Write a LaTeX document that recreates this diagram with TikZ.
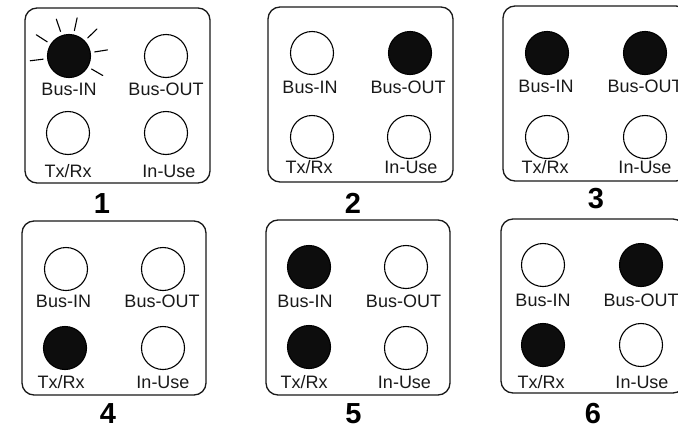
\documentclass[tikz,border=0pt]{standalone}
\usepackage{fontspec}
\setmainfont{Liberation Sans}
\usetikzlibrary{calc}
\begin{document}
\begin{tikzpicture}[x=1pt,y=-1pt,
  panel/.style={draw=black!90,line width=1.3pt,rounded corners=12pt},
  ledoff/.style={circle,draw=black,line width=1.1pt,fill=white,minimum size=43pt,inner sep=0pt},
  ledon/.style={ledoff,fill=black!95},
  lbl/.style={anchor=base,inner sep=0pt,text=black!90,font=\fontsize{18}{20}\selectfont},
  num/.style={anchor=base,inner sep=0pt,text=black,font=\bfseries\fontsize{29}{32}\selectfont},
  ray/.style={line width=1.1pt,line cap=round}]
\useasboundingbox (0,0) rectangle (678,426);
\clip (0,0) rectangle (678,426);

% panel 1 : Bus-IN blinking
\draw[panel] (25,8) rectangle (210,183);
\node[ledon]  (p1bi) at (69,56) {};
\node[ledoff] (p1bo) at (166,56) {};
\node[ledoff] (p1tr) at (68,133) {};
\node[ledoff] (p1iu) at (166,133) {};
\node[lbl] (p1bil) at (69,95) {Bus-IN};
\node[lbl] (p1bol) at (166,95) {Bus-OUT};
\node[lbl] (p1trl) at (68,177) {Tx/Rx};
\node[lbl] (p1iul) at (169,177) {In-Use};
\node[num] (n1) at (102,213) {1};
\foreach \a in {187,147,109,78,44,9,-30}
  \draw[ray] ($(p1bi)+(\a:26pt)$) -- ($(p1bi)+(\a:39pt)$);

% panel 2 : Bus-OUT
\draw[panel] (268,7) rectangle (453,182);
\node[ledoff] (p2bi) at (312,53) {};
\node[ledon]  (p2bo) at (410,53) {};
\node[ledoff] (p2tr) at (312,137) {};
\node[ledoff] (p2iu) at (409,137) {};
\node[lbl] (p2bil) at (310,93) {Bus-IN};
\node[lbl] (p2bol) at (408,93) {Bus-OUT};
\node[lbl] (p2trl) at (309,173) {Tx/Rx};
\node[lbl] (p2iul) at (411,173) {In-Use};
\node[num] (n2) at (353,213) {2};

% panel 3 : Bus-IN and Bus-OUT
\draw[panel] (503,6) rectangle (688,181);
\node[ledon]  (p3bi) at (547,53) {};
\node[ledon]  (p3bo) at (645,53) {};
\node[ledoff] (p3tr) at (547,137) {};
\node[ledoff] (p3iu) at (645,137) {};
\node[lbl] (p3bil) at (546,92) {Bus-IN};
\node[lbl] (p3bol) at (645,92) {Bus-OUT};
\node[lbl] (p3trl) at (545,173) {Tx/Rx};
\node[lbl] (p3iul) at (645,173) {In-Use};
\node[num] (n3) at (596,208) {3};

% panel 4 : Tx/Rx
\draw[panel] (22,221) rectangle (206,395);
\node[ledoff] (p4bi) at (66,269) {};
\node[ledoff] (p4bo) at (163,269) {};
\node[ledon]  (p4tr) at (65,348) {};
\node[ledoff] (p4iu) at (163,348) {};
\node[lbl] (p4bil) at (63.5,307) {Bus-IN};
\node[lbl] (p4bol) at (162,307) {Bus-OUT};
\node[lbl] (p4trl) at (61,388) {Tx/Rx};
\node[lbl] (p4iul) at (163,388) {In-Use};
\node[num] (n4) at (108,423) {4};

% panel 5 : Bus-IN and Tx/Rx
\draw[panel] (266,220) rectangle (450,395);
\node[ledon]  (p5bi) at (309,267) {};
\node[ledoff] (p5bo) at (406,267) {};
\node[ledon]  (p5tr) at (309,347) {};
\node[ledoff] (p5iu) at (406,348) {};
\node[lbl] (p5bil) at (305,307) {Bus-IN};
\node[lbl] (p5bol) at (403.5,307) {Bus-OUT};
\node[lbl] (p5trl) at (304,388) {Tx/Rx};
\node[lbl] (p5iul) at (404.5,388) {In-Use};
\node[num] (n5) at (353.5,423) {5};

% panel 6 : Bus-OUT and Tx/Rx
\draw[panel] (501,219) rectangle (685,393);
\node[ledoff] (p6bi) at (543,265) {};
\node[ledon]  (p6bo) at (641,265) {};
\node[ledon]  (p6tr) at (543,345) {};
\node[ledoff] (p6iu) at (641,345) {};
\node[lbl] (p6bil) at (543,306) {Bus-IN};
\node[lbl] (p6bol) at (641,306) {Bus-OUT};
\node[lbl] (p6trl) at (541,388) {Tx/Rx};
\node[lbl] (p6iul) at (642,388) {In-Use};
\node[num] (n6) at (593,423) {6};
\end{tikzpicture}
\end{document}
